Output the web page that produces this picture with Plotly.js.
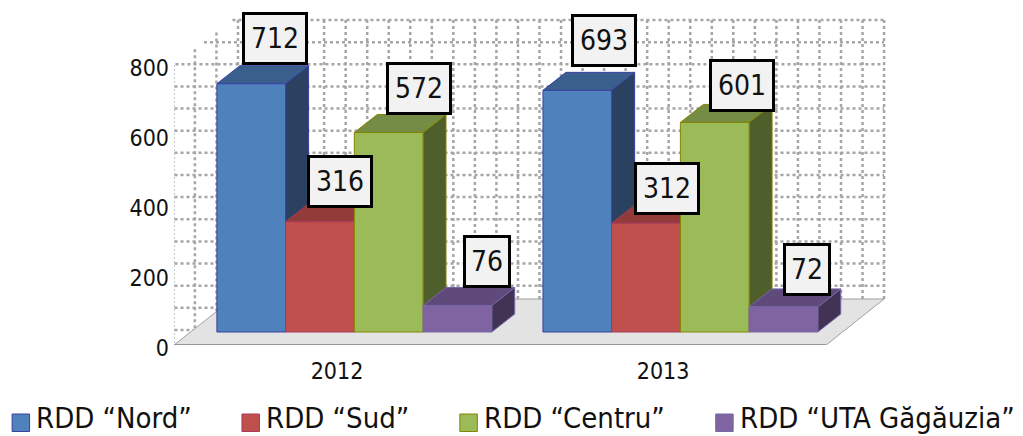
<!DOCTYPE html>
<html><head><meta charset="utf-8">
<script src="https://cdn.plot.ly/plotly-3.0.0.min.js"></script>
<style>html,body{margin:0;padding:0;background:#fff}#c{width:1023px;height:436px}</style>
</head><body><div id="c"></div>
<script>
const categories = ['2012', '2013'];
const seriesNames = ['RDD “Nord”', 'RDD “Sud”', 'RDD “Centru”', 'RDD “UTA Găgăuzia”'];
const nord = [712, 693];
const sud = [316, 312];
const centru = [572, 601];
const uta = [76, 72];
const yTicks = [0, 200, 400, 600, 800];

const seriesValues = [nord, sud, centru, uta];
const front = ['#4f81bd', '#c0504d', '#9bbb59', '#8064a2'];
const topFace = ['#3b5f8c', '#933b39', '#748c43', '#604a7b'];
const sideFace = ['#2a4260', '#6e2c2a', '#4f5f2c', '#423254'];
const edge = ['#3a3fa0', '#a83a5c', '#848400', '#7468a8'];
const labelDx = [[24, 27], [20, 20.5], [30, 27], [30, 24]];
const labelDy = [[1, 5.7], [-4, -10], [0, -8], [0, -7]];
const legendSwatchX = [11, 241, 459, 715];
const FONT = '"DejaVu Sans Condensed", "DejaVu Sans", Verdana, sans-serif';

// frame geometry
const L = 173.5, BOT = 345, W = 1023, H = 436;
const catPx = 326.25, valPx = 0.35, barValPx = 0.3487;
const shiftPx = 17.3, barBase = 332;
const px = p => (p - L) / catPx - 0.5;
const vy = p => (BOT - p) / valPx;
const barW = 68.75 / catPx, ddx = 23 / catPx, ddy = 18 / barValPx;

// back and side wall grid
const gx = [], gy = [];
for (let k = 0; k <= 14; k++) {
  const y = 20 + 22.14 * k;
  const xl = y < 65 ? 174 + (65 - y) / 45 * 58 : 174;
  const xr = y <= 299 ? 884 : L + (BOT - y) / 46 * 58;
  gx.push(px(xl), px(xr), null); gy.push(vy(y), vy(y), null);
}
for (let k = 0; k <= 32; k++) {
  const x = 884 - 21.55 * k;
  const yt = x < 232 ? 65 - (x - 174) / 58 * 45 : 20;
  const yb = x < 232 ? BOT - (x - L) / 58 * 46 : 299;
  gx.push(px(x), px(x), null); gy.push(vy(yt), vy(yb), null);
}
const skip = {hoverinfo: 'skip', showlegend: false, type: 'scatter', cliponaxis: false};
const traces = [
  Object.assign({x: gx, y: gy, mode: 'lines', line: {color: '#a6a6a6', width: 2.5, dash: '3px,3px'}}, skip),
  Object.assign({x: [L, L].map(px), y: [65, BOT].map(vy), mode: 'lines', line: {color: '#a6a6a6', width: 1.2, dash: '2px,2px'}}, skip),
  Object.assign({x: [L, 826, 884, 232, L].map(px), y: [BOT, BOT, 299, 299, BOT].map(vy), mode: 'lines', fill: 'toself', fillcolor: '#e3e3e3', line: {color: '#a0a0a0', width: 1}}, skip),
  Object.assign({x: [L, 826].map(px), y: [BOT, BOT].map(vy), mode: 'lines', line: {color: '#969696', width: 2}}, skip)
];

// side and top faces of every bar
seriesValues.forEach((vals, s) => {
  vals.forEach((v, i) => {
    const x0 = i + (s - 2) * barW, x1 = x0 + barW;
    traces.push(Object.assign({xaxis: 'x2', yaxis: 'y2', mode: 'lines', fill: 'toself', fillcolor: sideFace[s],
      line: {color: edge[s], width: 1},
      x: [x1, x1 + ddx, x1 + ddx, x1, x1], y: [0, ddy, v + ddy, v, 0]}, skip));
    traces.push(Object.assign({xaxis: 'x2', yaxis: 'y2', mode: 'lines', fill: 'toself', fillcolor: topFace[s],
      line: {color: edge[s], width: 1},
      x: [x0, x0 + ddx, x1 + ddx, x1, x0], y: [v, v + ddy, v + ddy, v, v]}, skip));
  });
});

// front faces
seriesValues.forEach((vals, s) => {
  traces.push({type: 'bar', name: seriesNames[s], x: [0, 1], y: vals, xaxis: 'x3', yaxis: 'y3', showlegend: false,
    marker: {color: front[s], line: {color: edge[s], width: 1}}});
});

const annotations = [], shapes = [];
seriesValues.forEach((vals, s) => {
  vals.forEach((v, i) => {
    const txt = String(v);
    annotations.push({xref: 'x2', yref: 'y2', x: i + (s - 1.5) * barW, y: v + ddy,
      xshift: labelDx[s][i], yshift: labelDy[s][i], xanchor: 'center', yanchor: 'bottom',
      text: txt, showarrow: false, font: {family: FONT, size: 28, color: '#111'},
      bgcolor: '#f2f2f2', bordercolor: '#000', borderwidth: 3, borderpad: 0,
      width: txt.length === 3 ? 60 : 42, height: 47, align: 'center', valign: 'middle'});
  });
});
const py = p => (BOT - p) / BOT;
const pw = p => (p - L) / (W - L);
seriesNames.forEach((n, s) => {
  const x = legendSwatchX[s];
  shapes.push({type: 'rect', xref: 'paper', yref: 'paper', x0: pw(x + 0.5), x1: pw(x + 18), y0: py(431.5), y1: py(414),
    fillcolor: front[s], line: {color: edge[s], width: 1}});
  annotations.push({xref: 'paper', yref: 'paper', x: pw(x + 23.5), y: py(418.5), xanchor: 'left', yanchor: 'middle',
    text: n, showarrow: false, font: {family: FONT, size: 29, color: '#111'}, borderpad: 0});
});

const xr = [-0.5, (W - L) / catPx - 0.5];
const shift = shiftPx / catPx;
const xrB = [xr[0] - shift, xr[1] - shift];
const yr = [0, BOT / valPx];
const yrB = [(barBase - BOT) / barValPx, barBase / barValPx];
const hidden = {visible: false, fixedrange: true, showgrid: false, zeroline: false};

const layout = {
  width: W, height: H, showlegend: false, paper_bgcolor: '#fff', plot_bgcolor: 'rgba(0,0,0,0)',
  margin: {l: L, r: 0, t: 0, b: H - BOT, pad: 0},
  barmode: 'group', bargap: 1 - 4 * barW, bargroupgap: 0,
  font: {family: FONT, color: '#111'},
  xaxis: {type: 'linear', range: xr, tickvals: [0, 1], ticktext: categories, showgrid: false, zeroline: false, showline: false,
    ticks: '', ticklabelstandoff: 10, tickfont: {family: FONT, size: 23, color: '#111'}},
  yaxis: {type: 'linear', range: yr, tickvals: yTicks, showgrid: false, zeroline: false, showline: false,
    ticks: '', ticklabelstandoff: 4, ticklabelshift: 3, tickfont: {family: FONT, size: 23, color: '#111'}},
  xaxis2: Object.assign({overlaying: 'x', range: xrB, type: 'linear', anchor: 'y2'}, hidden),
  yaxis2: Object.assign({overlaying: 'y', range: yrB, type: 'linear', anchor: 'x2'}, hidden),
  xaxis3: Object.assign({overlaying: 'x', range: xrB, type: 'linear', anchor: 'y3'}, hidden),
  yaxis3: Object.assign({overlaying: 'y', range: yrB, type: 'linear', anchor: 'x3'}, hidden),
  annotations, shapes
};
Plotly.newPlot('c', traces, layout, {displayModeBar: false, staticPlot: true});
</script></body></html>
